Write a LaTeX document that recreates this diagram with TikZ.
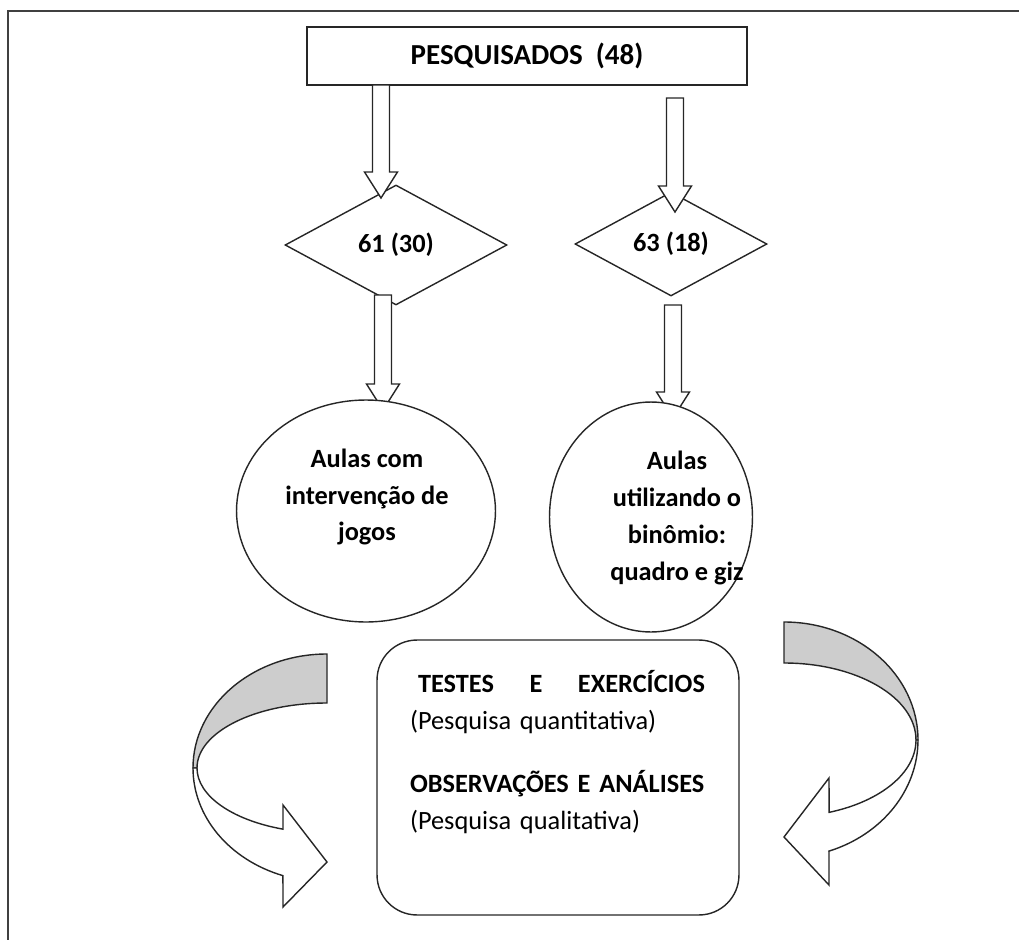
\documentclass[tikz,border=0pt]{standalone}
\usepackage{fontspec}
\setmainfont{Carlito}
\usetikzlibrary{shapes.geometric,calc}
\definecolor{BandGray}{RGB}{205,205,205}

\tikzset{
  shapeline/.style={draw=black!85, line width=0.8pt},
  pesqbox/.style={shapeline, rectangle, minimum width=8.8cm, minimum height=1.16cm, inner sep=0pt, font=\fontsize{16.5}{20}\selectfont\bfseries},
  choice/.style={shapeline, diamond, inner sep=0pt, font=\fontsize{15}{18}\selectfont\bfseries},
  aula/.style={shapeline, ellipse, fill=white, inner sep=0pt},
  aulatext/.style={align=center, font=\fontsize{15}{21}\selectfont\bfseries},
  resultbox/.style={shapeline, rectangle, rounded corners=0.8cm, minimum width=7.24cm, minimum height=5.5cm},
  resulttext/.style={text width=5.9cm, align=left, inner sep=0pt, font=\fontsize{15}{21}\selectfont},
  blockline/.style={shapeline, fill=white, line join=miter},
  curvepart/.style={shapeline, line join=miter}
}

\newcommand{\blockarrow}[2]{%
  \draw[blockline] let \p1=(#1), \p2=(#2) in
    (\x1-0.17cm,\y1) -- (\x1-0.17cm,\y2+0.52cm) -- (\x1-0.33cm,\y2+0.52cm) -- (\x2,\y2)
    -- (\x1+0.33cm,\y2+0.52cm) -- (\x1+0.17cm,\y2+0.52cm) -- (\x1+0.17cm,\y1) -- cycle;}

\begin{document}
\begin{tikzpicture}[x=0.02cm, y=0.02cm]
  \useasboundingbox (0,0) rectangle (1019,-940);
  \draw[black!75, line width=1.4pt] (8,-940) -- (8,-11) -- (1019,-11);

  \node[pesqbox] (pesq) at (527,-56) {PESQUISADOS\ \ (48)};
  \node[choice, minimum width=4.44cm, minimum height=2.4cm] (d61) at (396,-245) {61 (30)};
  \node[choice, minimum width=3.84cm, minimum height=2.08cm] (d63) at (671,-244) {63 (18)};

  \coordinate (a1s) at (381,-85);  \coordinate (a1e) at (381,-198);
  \coordinate (a2s) at (675,-98);  \coordinate (a2e) at (675,-212);
  \coordinate (a3s) at (383,-295); \coordinate (a3e) at (383,-410);
  \coordinate (a4s) at (673,-305); \coordinate (a4e) at (673,-418);
  \blockarrow{a1s}{a1e}
  \blockarrow{a2s}{a2e}
  \blockarrow{a3s}{a3e}
  \blockarrow{a4s}{a4e}

  \node[aula, minimum width=5.18cm, minimum height=4.44cm] (jogos) at (366,-511) {};
  \node[aulatext] (jogos text) at (367,-497) {Aulas com\\intervenção de\\jogos};
  \node[aula, minimum width=4.06cm, minimum height=4.6cm] (giz) at (651,-517) {};
  \node[aulatext] (giz text) at (677,-518) {Aulas\\utilizando o\\binômio:\\quadro e giz};

  \node[resultbox] (res) at (558,-777.5) {};
  \node[resulttext] (res text) at (557.5,-752) {\hbox to 5.9cm{\hspace*{0.16cm}\textbf{TESTES}\hfill\textbf{E}\hfill\textbf{EXERCÍCIOS}}\\
    (Pesquisa quantitativa)\\[15pt]
    \textbf{OBSERVAÇÕES E ANÁLISES}\\
    (Pesquisa qualitativa)};

  \coordinate (lc) at (327,-768);
  \filldraw[curvepart, fill=BandGray] ($(lc)+(90:134 and 114)$) arc[start angle=90, end angle=180, x radius=134, y radius=114]
    -- ($(lc)+(180:130 and 65)$) arc[start angle=180, end angle=90, x radius=130, y radius=65] -- cycle;
  \filldraw[curvepart, fill=white] ($(lc)+(180:130 and 65)$) arc[start angle=180, end angle=250.2, x radius=130, y radius=65]
    -- (283,-805) -- (327,-862) -- (283,-907) -- ($(lc)+(250.8:134 and 114)$)
    arc[start angle=250.8, end angle=180, x radius=134, y radius=114] -- cycle;

  \coordinate (rc) at (784,-740);
  \filldraw[curvepart, fill=BandGray] ($(rc)+(90:134 and 118)$) arc[start angle=90, end angle=0, x radius=134, y radius=118]
    -- ($(rc)+(0:132 and 77)$) arc[start angle=0, end angle=90, x radius=132, y radius=77] -- cycle;
  \filldraw[curvepart, fill=white] ($(rc)+(0:132 and 77)$) arc[start angle=0, end angle=-70, x radius=132, y radius=77]
    -- (829,-778) -- (784,-837) -- (829,-885) -- ($(rc)+(-70.4:134 and 118)$)
    arc[start angle=-70.4, end angle=0, x radius=134, y radius=118] -- cycle;
\end{tikzpicture}
\end{document}
